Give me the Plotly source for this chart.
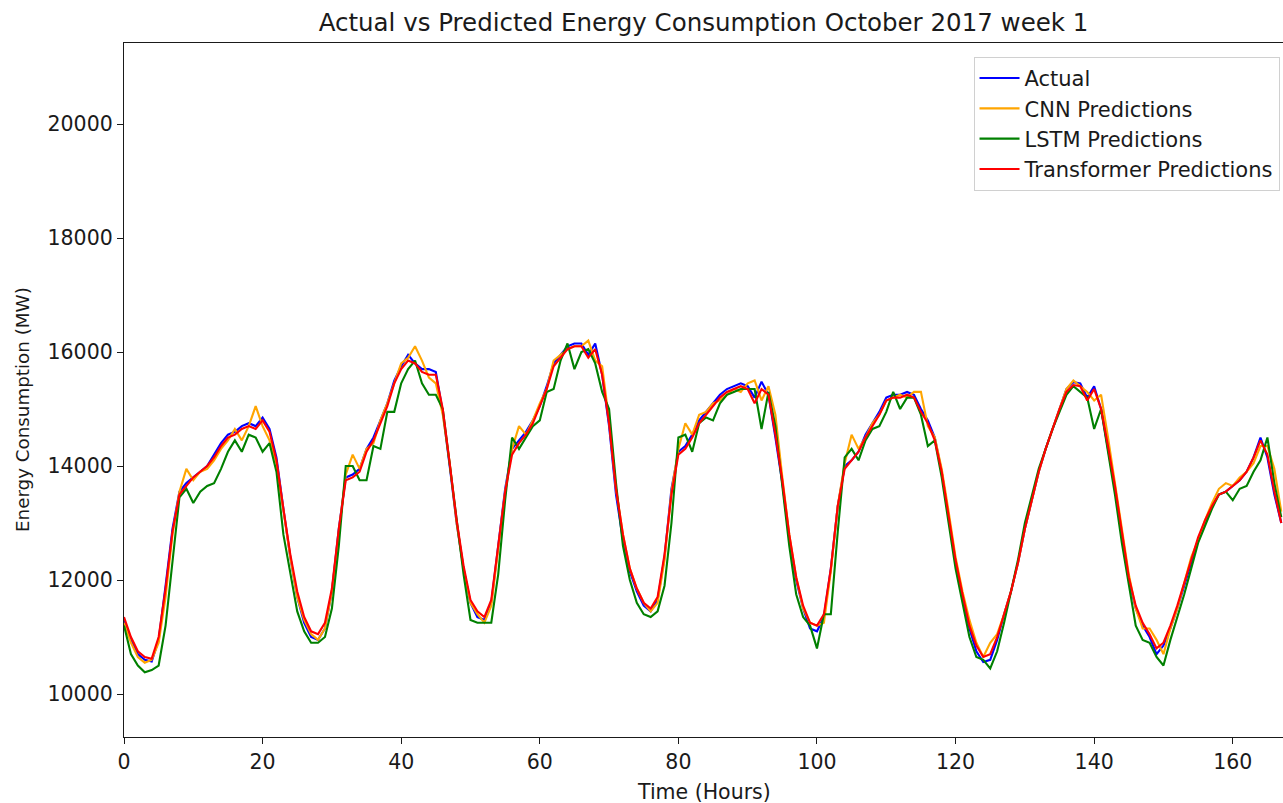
import plotly.graph_objects as go

hours = list(range(168))

actual = [
    11300, 10950, 10700, 10600, 10570, 10950, 11900, 12900, 13550, 13700,
    13800, 13900, 14000, 14200, 14400, 14550, 14600, 14700, 14750, 14700,
    14850, 14650, 14150, 13250, 12400, 11700, 11250, 11000, 10950, 11150,
    11800, 12900, 13800, 13850, 13950, 14300, 14500, 14800, 15100, 15500,
    15750, 15950, 15800, 15700, 15700, 15650, 14950, 14000, 13000, 12200,
    11600, 11350, 11300, 11600, 12600, 13600, 14300, 14450, 14600, 14800,
    15050, 15400, 15800, 15950, 16100, 16150, 16150, 15950, 16150, 15600,
    14700, 13500, 12700, 12150, 11800, 11550, 11450, 11650, 12400, 13600,
    14250, 14350, 14550, 14800, 14950, 15100, 15250, 15350, 15400, 15450,
    15400, 15200, 15480, 15250, 14500, 13700, 12750, 12000, 11500, 11150,
    11100, 11350, 12200, 13300, 14000, 14100, 14250, 14550, 14750, 14950,
    15200, 15250, 15250, 15300, 15250, 15000, 14800, 14500, 13900, 13100,
    12300, 11700, 11150, 10750, 10560, 10600, 10950, 11400, 11800, 12300,
    12900, 13400, 13900, 14300, 14650, 15000, 15350, 15470, 15450, 15200,
    15400, 15000, 14300, 13600, 12800, 12000, 11500, 11200, 11000, 10700,
    10850, 11150, 11500, 11900, 12300, 12700, 13000, 13300, 13500, 13550,
    13650, 13750, 13900, 14150, 14500, 14150, 13500, 13000,
]

cnn = [
    11250, 10900, 10650, 10550, 10600, 10900, 11700, 12800, 13550, 13950,
    13750, 13900, 13950, 14100, 14300, 14450, 14650, 14450, 14700, 15050,
    14700, 14450, 14050, 13200, 12400, 11700, 11300, 11050, 10950, 11150,
    11800, 12850, 13850, 14200, 13950, 14300, 14400, 14800, 15100, 15450,
    15800, 15900, 16100, 15850, 15550, 15450, 14900, 14050, 13000, 12200,
    11600, 11400, 11250, 11550, 12500, 13550, 14300, 14700, 14550, 14800,
    15100, 15350, 15850, 15950, 16050, 16100, 16100, 16200, 15850, 15750,
    14800, 13600, 12800, 12200, 11850, 11600, 11450, 11600, 12350, 13550,
    14300, 14750, 14550, 14900, 14950, 15100, 15150, 15250, 15350, 15300,
    15450, 15500, 15150, 15400, 14900, 13800, 12800, 12050, 11500, 11250,
    11200, 11250, 12150, 13300, 14050, 14550, 14300, 14500, 14750, 14900,
    15150, 15200, 15250, 15200, 15300, 15300, 14700, 14500, 13950, 13200,
    12400, 11800, 11300, 10900, 10650, 10900, 11050, 11400, 11800, 12300,
    12900, 13400, 13900, 14300, 14650, 15000, 15350, 15500, 15400, 15300,
    15150, 15250, 14500, 13700, 12900, 12100, 11500, 11150, 11150, 10950,
    10700, 11150, 11500, 11950, 12400, 12700, 13050, 13350, 13600, 13700,
    13650, 13800, 13900, 14050, 14350, 14350, 13950, 13200,
]

lstm = [
    11200, 10700, 10500, 10380, 10420, 10500, 11200, 12300, 13450, 13600,
    13350, 13550, 13650, 13700, 13950, 14250, 14450, 14250, 14550, 14500,
    14250, 14400, 13900, 12800, 12100, 11450, 11100, 10900, 10900, 11000,
    11500, 12600, 14000, 14000, 13750, 13750, 14350, 14300, 14950, 14950,
    15450, 15700, 15850, 15450, 15250, 15250, 15000, 14050, 13000, 12100,
    11300, 11250, 11250, 11250, 12100, 13400, 14500, 14300, 14500, 14700,
    14800, 15300, 15350, 15850, 16150, 15700, 16000, 16050, 15800, 15300,
    15000, 13700, 12600, 12000, 11600, 11400, 11350, 11450, 11900, 13000,
    14500, 14550, 14250, 14750, 14850, 14800, 15100, 15250, 15300, 15350,
    15350, 15350, 14650, 15300, 14700, 13600, 12600, 11750, 11350, 11200,
    10800, 11400, 11400, 12850, 14150, 14300, 14100, 14450, 14650, 14700,
    14950, 15300, 15000, 15200, 15200, 14900, 14350, 14450, 13800, 13000,
    12200, 11600, 11000, 10650, 10600, 10450, 10750, 11250, 11800, 12350,
    13000, 13450, 13950, 14300, 14650, 14950, 15250, 15400, 15300, 15200,
    14650, 15000, 14250, 13500, 12650, 11900, 11200, 10950, 10900, 10650,
    10500, 10950, 11350, 11750, 12200, 12650, 12950, 13250, 13500, 13550,
    13400, 13600, 13650, 13900, 14100, 14500, 13700, 13100,
]

transformer = [
    11350, 11000, 10750, 10650, 10620, 11000, 11850, 12850, 13500, 13650,
    13800, 13900, 14000, 14150, 14350, 14500, 14550, 14650, 14700, 14650,
    14800, 14600, 14100, 13250, 12450, 11800, 11350, 11100, 11050, 11250,
    11850, 12900, 13750, 13800, 13900, 14250, 14450, 14750, 15050, 15450,
    15700, 15850, 15800, 15650, 15600, 15600, 15000, 14050, 13050, 12250,
    11650, 11450, 11350, 11650, 12600, 13550, 14200, 14400, 14550, 14750,
    15050, 15350, 15750, 15900, 16050, 16100, 16100, 15900, 16050, 15600,
    14750, 13600, 12800, 12200, 11850, 11600, 11500, 11700, 12450, 13500,
    14200, 14300, 14500, 14750, 14900, 15050, 15200, 15300, 15350, 15400,
    15350, 15100, 15350, 15250, 14550, 13750, 12800, 12050, 11550, 11250,
    11200, 11400, 12200, 13300, 13950, 14100, 14250, 14500, 14700, 14900,
    15150, 15200, 15200, 15250, 15200, 14950, 14750, 14450, 13900, 13150,
    12350, 11750, 11200, 10850, 10650, 10700, 11000, 11400, 11800, 12300,
    12900, 13400, 13900, 14300, 14650, 15000, 15300, 15420, 15400, 15150,
    15350, 15000, 14350, 13650, 12850, 12050, 11550, 11250, 11050, 10800,
    10900, 11200, 11550, 11950, 12350, 12750, 13050, 13300, 13500, 13550,
    13650, 13750, 13900, 14150, 14450, 14200, 13550, 13000,
]

series_names = ["Actual", "CNN Predictions", "LSTM Predictions", "Transformer Predictions"]
series_colors = ["#0000ff", "#ffa500", "#008000", "#ff0000"]
series_values = [actual, cnn, lstm, transformer]

x_ticks = [0, 20, 40, 60, 80, 100, 120, 140, 160]
y_ticks = [10000, 12000, 14000, 16000, 18000, 20000]

FONT = "DejaVu Sans"
TXT = "#1a1a1a"

fig = go.Figure()
for name, color, vals in zip(series_names, series_colors, series_values):
    fig.add_trace(go.Scatter(
        x=hours, y=vals, mode="lines", name=name,
        line=dict(color=color, width=2.1),
    ))

fig.update_layout(
    width=1283, height=803,
    margin=dict(l=124, r=0, t=43, b=66),
    paper_bgcolor="white", plot_bgcolor="white",
    font=dict(family=FONT, size=20, color=TXT),
    title=dict(
        text="Actual vs Predicted Energy Consumption October 2017 week 1",
        x=0.5, xref="paper", xanchor="center",
        y=1 - 22 / 803, yref="container", yanchor="middle",
        font=dict(family=FONT, size=24.5, color=TXT),
    ),
    showlegend=True,
    legend=dict(
        x=0.997, y=0.98, xanchor="right", yanchor="top",
        bgcolor="rgba(255,255,255,0.85)", bordercolor="#d0d0d0", borderwidth=1,
        font=dict(family=FONT, size=21, color=TXT),
        itemwidth=40, tracegroupgap=0,
    ),
    annotations=[
        dict(text="Time (Hours)", xref="paper", yref="paper",
             x=0.5, y=-(792 - 737) / 694, xanchor="center", yanchor="middle",
             showarrow=False, font=dict(family=FONT, size=20.5, color=TXT)),
        dict(text="Energy Consumption (MW)", xref="paper", yref="paper",
             x=-(124 - 22) / 1159, y=(737 - 410) / 694, xanchor="center", yanchor="middle",
             textangle=-90, showarrow=False,
             font=dict(family=FONT, size=18.3, color=TXT)),
    ],
)

fig.update_xaxes(
    range=[0, 167.25], tickmode="array", tickvals=x_ticks,
    ticks="outside", ticklen=6, tickwidth=1.3, tickcolor=TXT,
    showline=True, linecolor=TXT, linewidth=1.3, mirror=True,
    showgrid=False, zeroline=False,
    tickfont=dict(family=FONT, size=20.5, color=TXT),
)
fig.update_yaxes(
    range=[9246, 21421], tickmode="array", tickvals=y_ticks,
    ticks="outside", ticklen=6, tickwidth=1.3, tickcolor=TXT,
    showline=True, linecolor=TXT, linewidth=1.3,
    showgrid=False, zeroline=False,
    tickformat="d",
    tickfont=dict(family=FONT, size=20.5, color=TXT),
)

fig.write_html("out.html")
